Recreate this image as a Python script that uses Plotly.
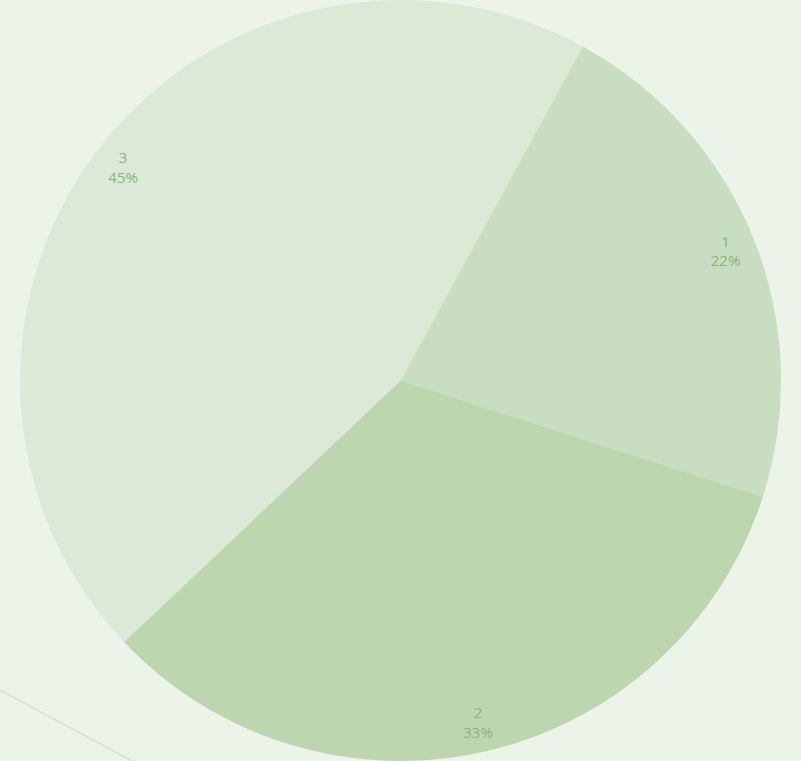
import plotly.graph_objects as go

labels = ["1", "2", "3"]
values = [22, 33, 45]
slice_colors = ["#c8ddc1", "#bdd6b0", "#dbe9d6"]

# filled pie (no text)
pie = go.Pie(
    labels=labels,
    values=values,
    sort=False,
    direction="clockwise",
    rotation=28.6,
    marker=dict(colors=slice_colors, line=dict(width=0)),
    textinfo="none",
    hoverinfo="label+percent",
    showlegend=False,
    domain=dict(x=[0, 1], y=[0, 1]),
)

# transparent ring overlay that carries the labels near the rim
ring = go.Pie(
    labels=labels,
    values=values,
    sort=False,
    direction="clockwise",
    rotation=28.6,
    hole=0.84,
    marker=dict(colors=["rgba(0,0,0,0)"] * 3, line=dict(width=0)),
    texttemplate="%{label}<br>%{percent:.0%}",
    textposition="inside",
    insidetextorientation="horizontal",
    textfont=dict(family="Open Sans", size=15, color="#86b67b"),
    hoverinfo="skip",
    showlegend=False,
    domain=dict(x=[0, 1], y=[0, 1]),
)

fig = go.Figure([pie, ring])

fig.update_layout(
    width=801, height=761,
    margin=dict(l=0, r=0, t=0, b=0),
    paper_bgcolor="#ecf4ea",
    plot_bgcolor="#ecf4ea",
    shapes=[dict(type="line", xref="paper", yref="paper",
                 x0=0, y0=0.093, x1=0.165, y1=0.0,
                 line=dict(color="#d3e4cd", width=1.5), layer="below")],
)

fig.write_html("out.html")
